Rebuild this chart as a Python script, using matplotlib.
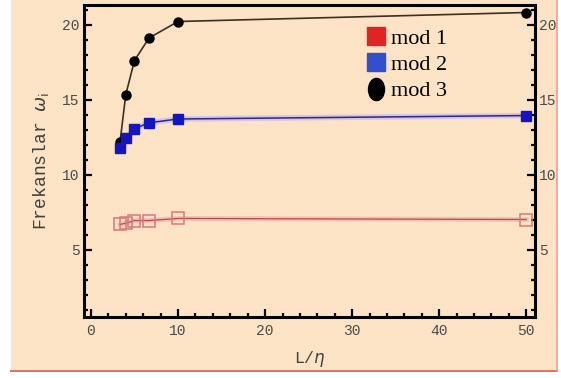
import numpy as np
import matplotlib.pyplot as plt
from matplotlib.lines import Line2D
from matplotlib.patches import Rectangle
from matplotlib.path import Path
from matplotlib.transforms import Affine2D
from matplotlib.ticker import MultipleLocator

# L/eta oranlari ve her mod icin frekanslar
L_eta = [10 / 3, 4, 5, 20 / 3, 10, 50]
mod1 = [6.67, 6.75, 6.93, 6.93, 7.07, 7.0]
mod2 = [11.75, 12.45, 13.05, 13.45, 13.7, 13.93]
mod3 = [12.15, 15.33, 17.6, 19.1, 20.2, 20.8]
etiketler = ['mod 1', 'mod 2', 'mod 3']

bg = '#fde3c6'
fig = plt.figure(figsize=(5.61, 3.78), dpi=100, facecolor='white')

# arka plan paneli ve kenar cizgileri
fig.patches.append(Rectangle((11 / 561, 7 / 378), 546 / 561, 371 / 378,
                             transform=fig.transFigure, facecolor=bg,
                             edgecolor='none', zorder=-2))
fig.add_artist(Line2D([11 / 561, 557 / 561], [7 / 378, 7 / 378],
                      transform=fig.transFigure, color='#d87a62', lw=1.5))
fig.add_artist(Line2D([557 / 561, 557 / 561], [7 / 378, 1],
                      transform=fig.transFigure, color='#e8a090', lw=1.2))

ax = fig.add_axes([84 / 561, 61 / 378, 451 / 561, 312 / 378])
ax.set_facecolor(bg)

# mod 1: bos kareler, pembe halo
ax.plot(L_eta, mod1, color='#f4a8a8', lw=3.5, alpha=0.6, zorder=2)
ax.plot(L_eta, mod1, color='#a85050', lw=0.9, zorder=3)
ax.plot(L_eta, mod1, 's', ms=8.5, mfc='none', mec='#d87878', mew=1.1, zorder=4)

# mod 2: dolu mavi kareler
ax.plot(L_eta, mod2, color='#c8b8f4', lw=4, alpha=0.7, zorder=2)
ax.plot(L_eta, mod2, color='#2a2a80', lw=1.1, zorder=3)
ax.plot(L_eta, mod2, 's', ms=7, color='#1414c0', zorder=5)

# mod 3: siyah daireler
ax.plot(L_eta, mod3, color='#3a3020', lw=1.2, zorder=3)
ax.plot(L_eta, mod3, 'o', ms=6.5, color='black', zorder=4)

ax.set_xlim(-0.8, 51)
ax.set_ylim(0.5, 21.3)
ax.xaxis.set_major_locator(MultipleLocator(10))
ax.xaxis.set_minor_locator(MultipleLocator(2))
ax.yaxis.set_minor_locator(MultipleLocator(1))
ax.set_yticks([5, 10, 15, 20])

for s in ax.spines.values():
    s.set_linewidth(2.2)
    s.set_color('black')

mono = 'Liberation Mono'
ax.tick_params(which='both', direction='in', left=True, right=True,
               bottom=True, top=False, labelright=True, width=1.6,
               labelsize=10.5, labelcolor='#4a4a4a', color='black')
ax.tick_params(which='major', length=6, pad=3)
ax.tick_params(axis='x', which='major', pad=5)
ax.tick_params(which='minor', length=3)
for lab in ax.get_xticklabels() + ax.get_yticklabels():
    lab.set_family(mono)

ax.set_xlabel(r'L/$\eta$', family=mono, fontsize=12, color='#404040', labelpad=8)
ax.set_ylabel(r'Frekanslar $\omega_\mathrm{i}$', family=mono, fontsize=13,
              color='#404040', labelpad=8)

# gosterge
elips = Path.unit_circle().transformed(Affine2D().scale(0.72, 1.0))
handles = [
    Line2D([], [], ls='none', marker='s', ms=13.5, color='#e02424'),
    Line2D([], [], ls='none', marker='s', ms=13.5, color='#3050d0'),
    Line2D([], [], ls='none', marker=elips, ms=16, color='black'),
]
ax.legend(handles, etiketler, loc='upper left', bbox_to_anchor=(0.628, 0.926),
          frameon=False, prop={'family': 'Liberation Serif', 'size': 16},
          handlelength=0.8, handletextpad=0.25, labelspacing=0.26,
          borderaxespad=0, borderpad=0)

fig.savefig('out.png', dpi=100, facecolor=fig.get_facecolor())
